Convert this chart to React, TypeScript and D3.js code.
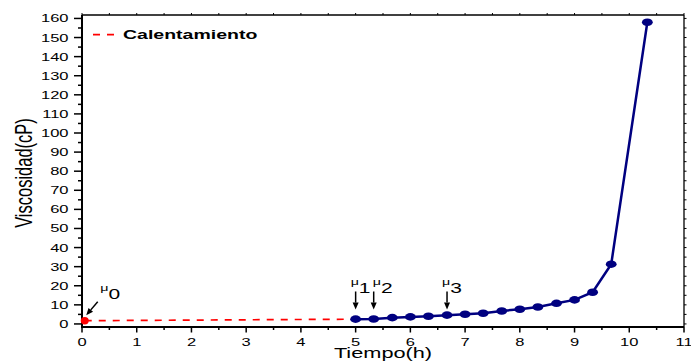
import React from 'react'
import * as d3 from 'd3'

// heating stage (red dashed)
const heatTime = [0.05, 5.0]
const heatVisc = [1.7, 2.5]

// gelation stage (navy line + markers)
const gelTime = [5.0, 5.33, 5.67, 6.0, 6.33, 6.67, 7.0, 7.33, 7.67, 8.0, 8.33, 8.67, 9.0, 9.33, 9.67, 10.33]
const gelVisc = [2.5, 2.6, 3.3, 3.7, 4.0, 4.6, 5.1, 5.6, 6.8, 7.7, 8.9, 10.8, 12.6, 16.6, 31.3, 158]

const xTicks = [0, 1, 2, 3, 4, 5, 6, 7, 8, 9, 10, 11]
const yTicks = [0, 10, 20, 30, 40, 50, 60, 70, 80, 90, 100, 110, 120, 130, 140, 150, 160]

// annotations on the gel curve
const marks = [
  { sub: '1', t: 5.0 },
  { sub: '2', t: 5.33 },
  { sub: '3', t: 6.67 },
]

const W = 691
const H = 362
const SX = 1.5 // picture is stretched sideways, text follows it
const FONT = '"Liberation Sans", Arial, sans-serif'

const x = d3.scaleLinear().domain([0, 11]).range([82, 684])
const y = d3.scaleLinear().domain([-1.6, 161.8]).range([327, 15])

function SText(props: any) {
  const { x, y, anchor = 'start', size, weight = 'normal', rotate, children } = props
  return (
    <text
      transform={`translate(${x},${y}) scale(${SX},1)${rotate ? ` rotate(${rotate})` : ''}`}
      textAnchor={anchor}
      fontSize={size}
      fontWeight={weight}
      fontFamily={FONT}
      fill="#000"
    >
      {children}
    </text>
  )
}

function Arrow({ x1, y1, x2, y2 }: { x1: number; y1: number; x2: number; y2: number }) {
  const a = Math.atan2(y2 - y1, x2 - x1)
  const len = 7
  const half = 3
  const bx = x2 - len * Math.cos(a)
  const by = y2 - len * Math.sin(a)
  const px = -Math.sin(a) * half
  const py = Math.cos(a) * half
  return (
    <g>
      <line x1={x1} y1={y1} x2={bx} y2={by} stroke="#000" strokeWidth={1.5} />
      <polygon points={`${x2},${y2} ${bx + px},${by + py} ${bx - px},${by - py}`} fill="#000" />
    </g>
  )
}

export default function App() {
  const heatData = heatTime.map((t, i) => [t, heatVisc[i]] as [number, number])
  const gelData = gelTime.map((t, i) => [t, gelVisc[i]] as [number, number])
  const line = d3.line<[number, number]>().x(d => x(d[0])).y(d => y(d[1]))

  const [x0, x1] = x.range()
  const [yb, yt] = y.range()

  const xMinor = d3.range(0.5, 11, 1)
  const yMinor = d3.range(5, 161, 10)

  const p0x = x(heatTime[0])
  const p0y = y(heatVisc[0])

  return (
    <svg width={W} height={H} style={{ position: 'absolute', left: 0, top: 0, background: '#fff' }}>
      {/* frame: top & right thin, with small outward ticks */}
      <line x1={x0} x2={x1} y1={yt} y2={yt} stroke="#000" strokeWidth={1.3} />
      <line x1={x1} x2={x1} y1={yt} y2={yb} stroke="#000" strokeWidth={1.3} />
      {[...xTicks, ...xMinor].map(t => (
        <line key={'tt' + t} x1={x(t)} x2={x(t)} y1={yt} y2={yt - 2} stroke="#000" strokeWidth={1} />
      ))}
      {[...yTicks, ...yMinor].map(v => (
        <line key={'rt' + v} x1={x1} x2={x1 + 2.5} y1={y(v)} y2={y(v)} stroke="#000" strokeWidth={1} />
      ))}

      {/* left axis */}
      <line x1={x0} x2={x0} y1={yt} y2={yb + 1} stroke="#000" strokeWidth={2} />
      {yTicks.map(v => (
        <g key={'y' + v}>
          <line x1={x0 - 8} x2={x0} y1={y(v)} y2={y(v)} stroke="#000" strokeWidth={1.5} />
          <SText x={68.5} y={y(v) + 4} anchor="end" size={11}>{v}</SText>
        </g>
      ))}
      {yMinor.map(v => (
        <line key={'ym' + v} x1={x0 - 4} x2={x0} y1={y(v)} y2={y(v)} stroke="#000" strokeWidth={1.5} />
      ))}

      {/* bottom axis */}
      <line x1={x0 - 1} x2={x1} y1={yb} y2={yb} stroke="#000" strokeWidth={2} />
      {xTicks.map(t => (
        <g key={'x' + t}>
          <line x1={x(t)} x2={x(t)} y1={yb} y2={yb + 5.5} stroke="#000" strokeWidth={1.5} />
          <SText x={x(t)} y={345.5} anchor="middle" size={11}>{t}</SText>
        </g>
      ))}
      {xMinor.map(t => (
        <line key={'xm' + t} x1={x(t)} x2={x(t)} y1={yb} y2={yb + 3} stroke="#000" strokeWidth={1.5} />
      ))}

      {/* axis titles */}
      <SText x={(x0 + x1) / 2} y={358.3} anchor="middle" size={14.5}>Tiempo(h)</SText>
      <SText x={31.7} y={(yt + yb) / 2 + 2} anchor="middle" size={16.5} rotate={-90}>Viscosidad(cP)</SText>

      {/* heating series */}
      <path d={line(heatData) || ''} fill="none" stroke="#ff0000" strokeWidth={1.7} strokeDasharray="7,7" />
      <ellipse cx={p0x} cy={p0y} rx={4} ry={3.7} fill="#ff0000" />

      {/* gelation series */}
      <path d={line(gelData) || ''} fill="none" stroke="#000080" strokeWidth={2.5} />
      {gelData.map((d, i) => (
        <ellipse key={'g' + i} cx={x(d[0])} cy={y(d[1])} rx={5.4} ry={3.8} fill="#000080" />
      ))}

      {/* legend */}
      <line x1={93} x2={117} y1={34.7} y2={34.7} stroke="#ff0000" strokeWidth={1.7} strokeDasharray="7,7" />
      <SText x={123} y={39.3} size={13} weight="bold">Calentamiento</SText>

      {/* mu 0 */}
      <Arrow x1={p0x + 13} y1={p0y - 19} x2={p0x + 1.5} y2={p0y - 5.5} />
      <SText x={p0x + 15.5} y={p0y - 30} size={9.5}>
        μ<tspan fontSize={14} dy={8}>0</tspan>
      </SText>

      {/* mu 1..3 */}
      {marks.map((m, i) => (
        <g key={'m' + m.sub}>
          <Arrow x1={x(m.t)} y1={y(17)} x2={x(m.t)} y2={y(7.5)} />
          <SText x={x(m.t) - (i === 1 ? 1 : 5)} y={y(20.5)} size={9.5}>
            μ<tspan fontSize={14} dy={8}>{m.sub}</tspan>
          </SText>
        </g>
      ))}
    </svg>
  )
}
